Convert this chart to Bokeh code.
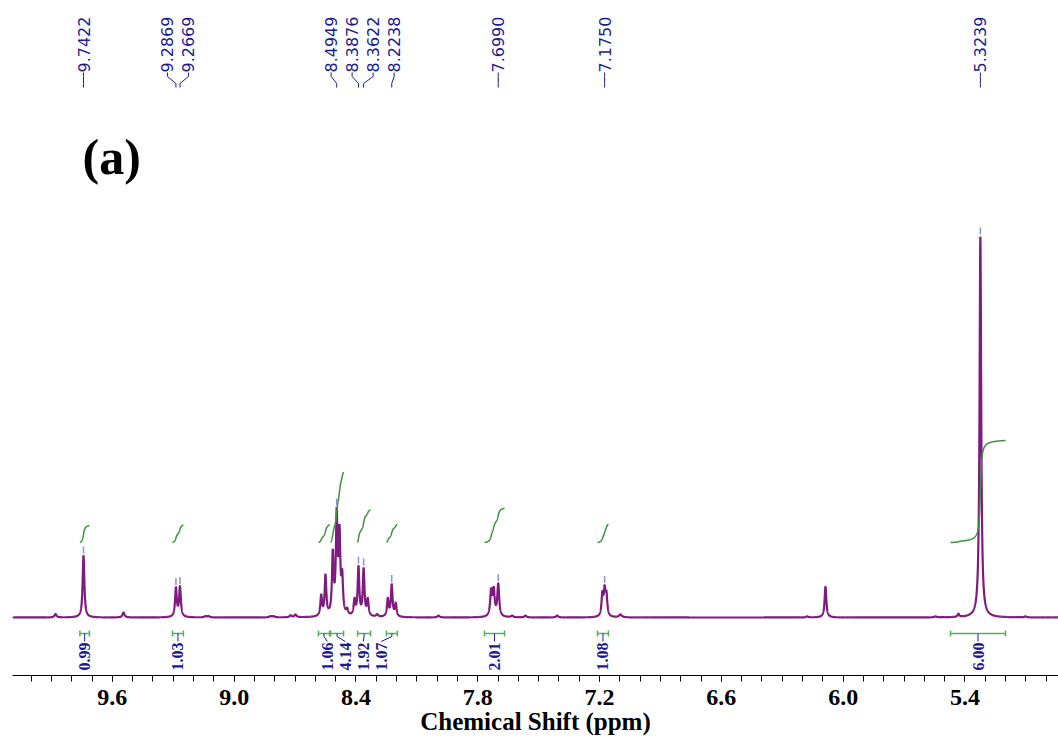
import numpy as np
from bokeh.plotting import figure
from bokeh.models import Range1d, FixedTicker, PrintfTickFormatter
from bokeh.core.properties import value
from bokeh.embed import file_html
from bokeh.resources import INLINE

# ---------------- data ----------------
# resonance lines: chemical shift (ppm), apparent height (% of tallest line), half width (ppm)
peak_ppm = [9.880, 9.7422, 9.545, 9.2869, 9.2669, 9.141, 9.126, 8.821, 8.806, 8.722, 8.698,
            8.5713, 8.5501, 8.5141, 8.4949, 8.4811, 8.4678, 8.4432, 8.4072, 8.3876, 8.3622,
            8.3417, 8.2954, 8.2432, 8.2238, 8.2038, 7.9934,
            7.7341, 7.7213, 7.6990, 7.6304, 7.5649, 7.4087,
            7.186, 7.1750, 7.166, 7.0969, 6.1772, 6.0870,
            5.5451, 5.4318, 5.3727, 5.3239, 5.1018]
peak_height = [0.9, 16.3, 1.3, 8.0, 8.3, 0.4, 0.4, 0.4, 0.4, 0.6, 0.8,
               6.1, 11.4, 18.0, 28.9, 24.5, 12.7, 2.6, 5.2, 13.6, 13.1,
               5.2, 0.9, 5.2, 8.8, 3.9, 0.5,
               7.7, 8.1, 9.0, 0.5, 0.5, 0.5,
               7.0, 8.5, 7.0, 0.8, 0.3, 8.1,
               0.3, 1.0, 0.8, 100.0, 0.3]
peak_hwhm = [0.006, 0.005, 0.006, 0.005, 0.005, 0.006, 0.006, 0.006, 0.006, 0.006, 0.006,
             0.0048, 0.0048, 0.0048, 0.0048, 0.0048, 0.0048, 0.005, 0.0048, 0.0048, 0.0048,
             0.0048, 0.006, 0.0048, 0.0048, 0.0048, 0.006,
             0.0055, 0.0055, 0.0055, 0.006, 0.006, 0.006,
             0.005, 0.005, 0.005, 0.008, 0.006, 0.005,
             0.006, 0.005, 0.005, 0.0048, 0.006]

# picked peaks (top labels)
label_ppm = [9.7422, 9.2869, 9.2669, 8.4949, 8.3876, 8.3622, 8.2238, 7.6990, 7.1750, 5.3239]
label_text = ["9.7422", "9.2869", "9.2669", "8.4949", "8.3876", "8.3622", "8.2238",
              "7.6990", "7.1750", "5.3239"]
label_group = [0, 1, 1, 2, 2, 2, 2, 3, 4, 5]

# integration regions
integ_from = [9.760, 9.304, 8.585, 8.525, 8.392, 8.250, 7.767, 7.210, 5.471]
integ_to = [9.713, 9.250, 8.530, 8.461, 8.328, 8.196, 7.668, 7.156, 5.200]
integ_value = [0.99, 1.03, 1.06, 4.14, 1.92, 1.07, 2.01, 1.08, 6.00]
integ_group = [0, 1, 2, 2, 2, 2, 3, 4, 5]

major_ticks = [9.6, 9.0, 8.4, 7.8, 7.2, 6.6, 6.0, 5.4]
x_title = "Chemical Shift (ppm)"
panel_tag = "(a)"

# ---------------- layout helpers ----------------
W, H = 1058, 747
FL, FT, FB = 12, 0, 675          # frame left / top / bottom (px)
X0, X1 = 10.092, 4.939            # ppm at frame left / right
PPM_PER_PX = (X0 - X1) / (W - FL)
BASE_PX = 617.0                   # baseline row
PX_PER_UNIT = 3.81                # 100 % -> 381 px


def yu(py):
    return (BASE_PX - py) / PX_PER_UNIT


def dpx(n):
    return n * PPM_PER_PX


Y_TOP = yu(FT)
Y_BOT = yu(FB)

NAVY = "#1b1b8e"
PURPLE = "#7e1a80"
GREEN_C = "#3f903f"
GREEN_B = "#5cae5c"

# ---------------- spectrum ----------------
pp = np.array(peak_ppm)
ph = np.array(peak_height)
pw = np.array(peak_hwhm)
A = 1.0 / (1.0 + ((pp[:, None] - pp[None, :]) / pw[None, :]) ** 2)
amp = np.clip(np.linalg.solve(A, ph), 0, None)


def spectrum(x):
    x = np.asarray(x)[:, None]
    return (amp[None, :] / (1.0 + ((x - pp[None, :]) / pw[None, :]) ** 2)).sum(axis=1)


xs = np.linspace(X0, X1, 18000)
ys = spectrum(xs)

p = figure(width=W, height=H, x_range=Range1d(X0, X1), y_range=Range1d(Y_BOT, Y_TOP),
           output_backend="svg", toolbar_location=None, y_axis_location=None,
           min_border_left=FL, min_border_right=0, min_border_top=0, min_border_bottom=H - FB)
p.outline_line_color = None
p.grid.visible = False
p.background_fill_color = "white"

p.line(xs, ys, line_color=PURPLE, line_width=2.2)

# ---------------- integrals ----------------
UNIT_RISE = 17.0 / PX_PER_UNIT
INT_START = yu(542)
for a, b, v in zip(integ_from, integ_to, integ_value):
    xi = np.linspace(a, b, 300)
    yi = spectrum(xi)
    cum = np.concatenate([[0], np.cumsum(0.5 * (yi[1:] + yi[:-1]))])
    cum = cum / cum[-1]
    p.line(xi, INT_START + v * UNIT_RISE * cum, line_color=GREEN_C, line_width=1.5)

# brackets
BR_Y = yu(633)
cap = 3 / PX_PER_UNIT
centers = [(a + b) / 2 for a, b in zip(integ_from, integ_to)]
p.segment(x0=integ_from, y0=[BR_Y] * 9, x1=integ_to, y1=[BR_Y] * 9, line_color=GREEN_B, line_width=1.5)
p.segment(x0=integ_from + integ_to, y0=[BR_Y - cap] * 18, x1=integ_from + integ_to, y1=[BR_Y + cap] * 18,
          line_color=GREEN_B, line_width=1.5)

# spread integral labels within groups
int_lab_x = list(centers)
for g in set(integ_group):
    idx = [i for i, gg in enumerate(integ_group) if gg == g]
    if len(idx) > 1:
        mid = np.mean([centers[i] for i in idx])
        for k, i in enumerate(idx):
            int_lab_x[i] = mid + dpx(18) * ((len(idx) - 1) / 2 - k)
for c, lx in zip(centers, int_lab_x):
    p.line([c, c, lx], [BR_Y, yu(636), yu(641)], line_color=NAVY, line_width=1)
p.text(x=int_lab_x, y=[yu(642)] * 9, text=[f"{v:.2f}" for v in integ_value], angle=np.pi / 2,
       text_align="right", text_baseline="middle", text_color=NAVY,
       text_font=value("Liberation Serif"), text_font_style="bold", text_font_size="16px")

# ---------------- picked peak labels ----------------
lab_x = list(label_ppm)
for g in set(label_group):
    idx = [i for i, gg in enumerate(label_group) if gg == g]
    if len(idx) > 1:
        mid = np.mean([label_ppm[i] for i in idx])
        for k, i in enumerate(idx):
            lab_x[i] = mid + dpx(21) * ((len(idx) - 1) / 2 - k)
p.text(x=lab_x, y=[yu(72)] * len(lab_x), text=label_text, angle=np.pi / 2,
       text_align="left", text_baseline="middle", text_color=NAVY,
       text_font=value("DejaVu Sans"), text_font_size="16px")
for lx, pk in zip(lab_x, label_ppm):
    p.line([lx, lx, pk, pk], [yu(72), yu(76), yu(83), yu(87)], line_color=NAVY, line_width=1)

# markers above picked peaks
for pk in label_ppm:
    loc = np.linspace(pk - 0.004, pk + 0.004, 41)
    top = spectrum(loc).max()
    p.segment(x0=[pk], y0=[top + 2 / PX_PER_UNIT], x1=[pk], y1=[top + 9 / PX_PER_UNIT],
              line_color="#8f8fcf", line_width=1.5)

# panel tag
p.text(x=[X0 - dpx(82 - FL)], y=[yu(156)], text=[panel_tag], text_align="left", text_baseline="middle",
       text_color="black", text_font=value("Liberation Serif"), text_font_style="bold",
       text_font_size="50px")

# ---------------- axis ----------------
ax = p.xaxis[0]
ax.ticker = FixedTicker(ticks=major_ticks, minor_ticks=[round(10.0 - 0.1 * i, 1) for i in range(51)])
ax.formatter = PrintfTickFormatter(format="%.1f")
ax.major_tick_in = 0
ax.major_tick_out = 6
ax.minor_tick_in = 0
ax.minor_tick_out = 6
ax.axis_line_color = "black"
ax.major_tick_line_color = "black"
ax.minor_tick_line_color = "black"
ax.major_label_text_font = "Liberation Serif"
ax.major_label_text_font_style = "bold"
ax.major_label_text_font_size = "24px"
ax.major_label_text_color = "black"
ax.major_label_standoff = 8
ax.axis_label = x_title
ax.axis_label_text_font = "Liberation Serif"
ax.axis_label_text_font_style = "bold"
ax.axis_label_text_font_size = "25px"
ax.axis_label_text_color = "black"
ax.axis_label_standoff = 0

open("out.html", "w").write(file_html(p, INLINE))
